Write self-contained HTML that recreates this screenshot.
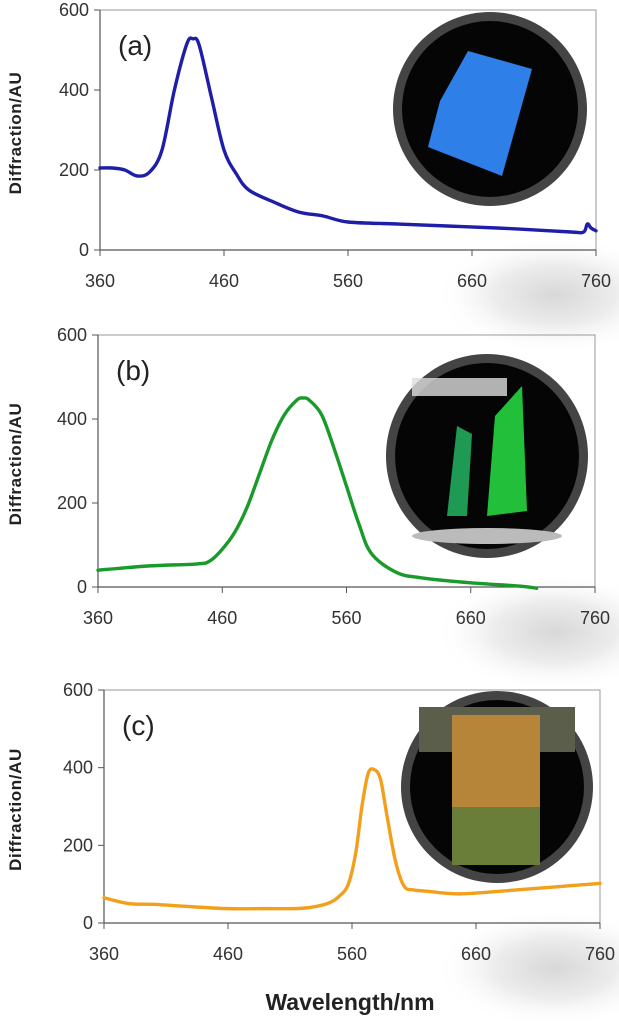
<!DOCTYPE html>
<html><head><meta charset="utf-8"><style>
body{margin:0;background:#fff;width:619px;height:1024px;overflow:hidden}
svg text{font-family:"Liberation Sans",sans-serif}
</style></head><body>
<svg id="fig" width="619" height="1024" viewBox="0 0 619 1024" xmlns="http://www.w3.org/2000/svg">
<defs>
<radialGradient id="shadow" cx="50%" cy="50%" r="50%"><stop offset="0" stop-color="#d8d8d8"/><stop offset="0.5" stop-color="#ececec"/><stop offset="1" stop-color="#fff" stop-opacity="0"/></radialGradient>
</defs>
<g id="root"></g>
<text x="350" y="1010" text-anchor="middle" font-size="23" font-weight="bold" fill="#222">Wavelength/nm</text>
</svg>
<script>
const ticksX=[360,460,560,660,760];
const ticksY=[0,200,400,600];
const waveA=[360,370,380,390,400,410,420,430,435,440,450,460,470,480,500,520,540,560,600,640,680,700,740,750,753,756,760];
const valA=[205,205,200,185,195,250,400,515,528,512,380,250,190,150,120,95,85,70,65,60,55,52,45,45,65,55,48];
const waveB=[360,400,440,450,460,470,480,490,500,510,520,525,530,540,550,560,570,580,600,620,660,700,713];
const valB=[40,50,55,62,90,130,190,270,350,410,445,450,445,410,330,240,150,80,35,22,10,2,-3];
const waveC=[360,380,400,430,460,490,520,540,550,557,563,568,573,578,583,588,595,602,610,620,645,680,720,760];
const valC=[65,50,48,42,37,37,38,50,70,100,180,300,385,395,370,280,160,95,85,82,75,82,92,102];
const panels=[
 {name:'a',x0:100,x1:596,top:10,bot:250,w:waveA,v:valA,col:'#1e1ea8',lab:'(a)',circ:[490,109,97,97],img:'blue'},
 {name:'b',x0:98,x1:595,top:335,bot:587,w:waveB,v:valB,col:'#1a9a2a',lab:'(b)',circ:[487,456,101,102],img:'green'},
 {name:'c',x0:104,x1:600,top:690,bot:923,w:waveC,v:valC,col:'#f2a01c',lab:'(c)',circ:[497,787,96,96],img:'orange'}
];
const NS='http://www.w3.org/2000/svg';
const root=document.getElementById('root');
function mk(t,a,p){const e=document.createElementNS(NS,t);for(const k in a)e.setAttribute(k,a[k]);(p||root).appendChild(e);return e;}
panels.forEach(P=>{
 const g=mk('g',{});
 
 
 const sx=w=>P.x0+(w-360)/400*(P.x1-P.x0);
 const sy=v=>P.bot-v/600*(P.bot-P.top);
 const sh=mk('ellipse',{cx:555,cy:P.bot+45,rx:120,ry:60,fill:'url(#shadow)'},g);
 
 
 const fr=mk('path',{d:`M${P.x0} ${P.top}H${P.x1}V${P.bot}`,fill:'none',stroke:'#9a9a9a','stroke-width':1},g);
 
 
 const ax=mk('path',{d:`M${P.x0} ${P.top}V${P.bot}H${P.x1}`,fill:'none',stroke:'#555','stroke-width':1.2},g);
 
 
 ticksX.forEach(t=>{
  mk('line',{x1:sx(t),x2:sx(t),y1:P.bot,y2:P.bot+6,stroke:'#555'},g);
  const tx=mk('text',{x:sx(t),y:P.bot+37,'text-anchor':'middle','font-size':18,fill:'#333'},g);
  tx.textContent=t;
  
  
 });
 ticksY.forEach(t=>{
  mk('line',{x1:P.x0-6,x2:P.x0,y1:sy(t),y2:sy(t),stroke:'#555'},g);
  const tx=mk('text',{x:P.x0-11,y:sy(t)+6,'text-anchor':'end','font-size':18,fill:'#333'},g);
  tx.textContent=t;
  
  
 });
 const yl=mk('text',{transform:`translate(21 ${(P.top+P.bot)/2+3}) rotate(-90)`,'text-anchor':'middle','font-size':17,'font-weight':'bold',fill:'#222','letter-spacing':'0.6'},g);
 yl.textContent='Diffraction/AU';
 
 
 const pl=mk('text',{x:P.x0+18,y:P.top+45,'font-size':28,fill:'#222'},g);
 pl.textContent=P.lab;
 
 
 const pts=P.w.map((w,i)=>[sx(w),sy(P.v[i])]);
 let d=`M${pts[0][0]} ${pts[0][1]}`;
 for(let i=0;i<pts.length-1;i++){
  const p0=pts[i-1]||pts[i],p1=pts[i],p2=pts[i+1],p3=pts[i+2]||p2;
  d+=`C${p1[0]+(p2[0]-p0[0])/6} ${p1[1]+(p2[1]-p0[1])/6} ${p2[0]-(p3[0]-p1[0])/6} ${p2[1]-(p3[1]-p1[1])/6} ${p2[0]} ${p2[1]}`;
 }
 const ln=mk('path',{d,fill:'none',stroke:P.col,'stroke-width':3.4,'stroke-linejoin':'round','stroke-linecap':'round'},g);
 
 
 const [cx,cy,rx,ry]=P.circ;
 const ins=mk('g',{},g);
 
 
 mk('ellipse',{cx,cy,rx,ry,fill:'#444'},ins);
 mk('ellipse',{cx,cy,rx:rx-9,ry:ry-9,fill:'#050505'},ins);
 if(P.img==='blue'){
  mk('path',{d:`M${cx-22} ${cy-58}L${cx+42} ${cy-40}L${cx+12} ${cy+67}L${cx-62} ${cy+38}L${cx-50} ${cy-8}Z`,fill:'#2f7fe8'},ins);
 }else if(P.img==='green'){
  mk('rect',{x:cx-75,y:cy-78,width:95,height:18,fill:'#ddd',opacity:0.8},ins);
  mk('path',{d:`M${cx-40} ${cy+60}L${cx-30} ${cy-30}L${cx-15} ${cy-22}L${cx-20} ${cy+60}Z`,fill:'#1f9a55'},ins);
  mk('path',{d:`M${cx} ${cy+60}L${cx+8} ${cy-40}L${cx+35} ${cy-70}L${cx+40} ${cy+55}Z`,fill:'#22c03a'},ins);
  mk('ellipse',{cx:cx,cy:cy+80,rx:75,ry:8,fill:'#bbb'},ins);
 }else{
  mk('rect',{x:cx-78,y:cy-80,width:156,height:45,fill:'#5a5e4a'},ins);
  mk('rect',{x:cx-45,y:cy-72,width:88,height:150,fill:'#b6853a'},ins);
  mk('rect',{x:cx-45,y:cy+20,width:88,height:58,fill:'#6a7e3a'},ins);
 }
});
</script>
</body></html>
